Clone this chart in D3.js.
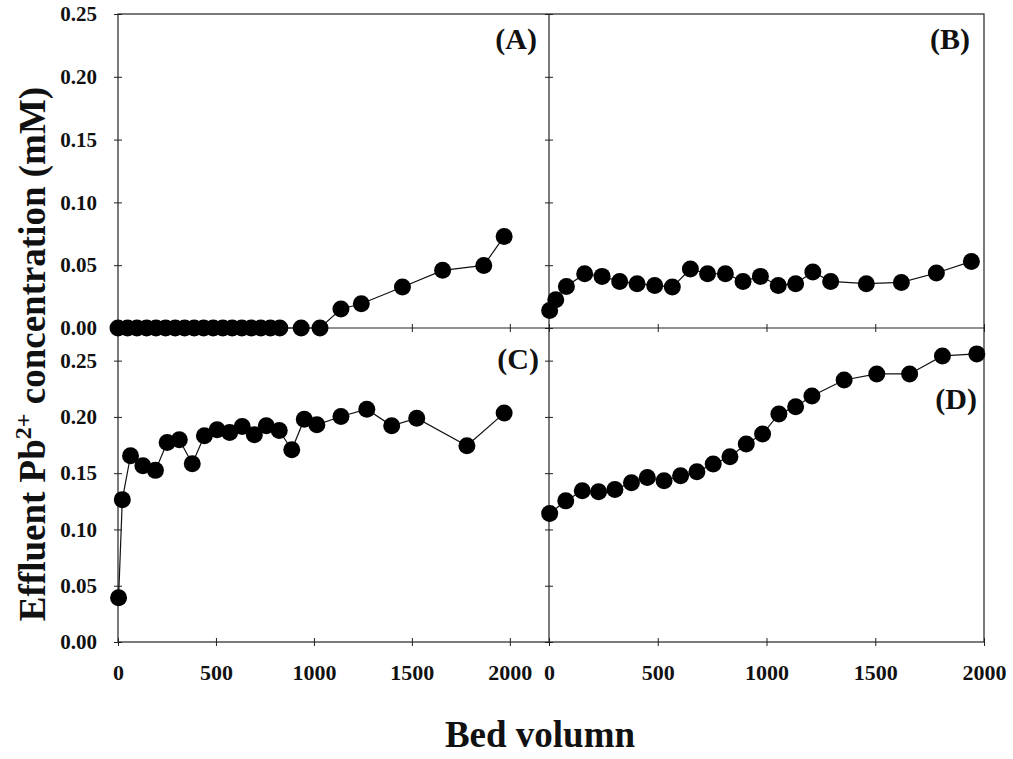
<!DOCTYPE html>
<html><head><meta charset="utf-8">
<script src="https://cdn.jsdelivr.net/npm/d3@7"></script>
<style>body{margin:0;background:#fff;} text{font-family:"Liberation Serif","Times New Roman",serif;font-weight:bold;fill:#111;}</style>
</head><body>
<svg id="c" width="1013" height="759"></svg>
<script>
// Panel A
const xA = [0,49,97,146,194,243,292,340,389,437,486,535,583,632,680,729,778,826,935,1031,1138,1242,1452,1657,1867,1971];
const yA = [0,0,0,0,0,0,0,0,0,0,0,0,0,0,0,0,0,0,0,0,0.0151,0.0193,0.0326,0.0459,0.0498,0.0729];
// Panel B
const xB = [3,31,80,164,244,325,405,486,567,650,729,811,892,972,1054,1134,1213,1295,1459,1620,1781,1942];
const yB = [0.0140,0.0225,0.0331,0.0432,0.0411,0.0371,0.0353,0.0339,0.0326,0.0470,0.0432,0.0432,0.0371,0.0411,0.0339,0.0353,0.0446,0.0371,0.0353,0.0363,0.0438,0.0530];
// Panel C
const xC = [3,22,64,127,191,251,313,379,441,506,570,634,696,757,823,887,951,1015,1138,1270,1397,1525,1781,1971];
const yC = [0.0394,0.1265,0.1655,0.1566,0.1525,0.1773,0.1797,0.1584,0.1832,0.1886,0.1862,0.1915,0.1841,0.1921,0.1879,0.1708,0.1980,0.1930,0.2004,0.2069,0.1921,0.1989,0.1744,0.2034];
// Panel D
const xD = [3,77,153,228,303,379,452,529,605,680,755,832,907,982,1057,1134,1209,1357,1507,1658,1809,1967];
const yD = [0.1142,0.1254,0.1343,0.1335,0.1356,0.1415,0.1462,0.1432,0.1477,0.1512,0.1581,0.1646,0.1759,0.1848,0.2026,0.2091,0.2186,0.2328,0.2382,0.2382,0.2542,0.2560];

const xTicks = [0,500,1000,1500,2000];
const yTicks = [0,0.05,0.10,0.15,0.20,0.25];
const panelLabels = ["(A)","(B)","(C)","(D)"];
const yTitle = "Effluent Pb";
const yTitleSup = "2+";
const yTitleRest = " concentration (mM)";
const xTitle = "Bed volumn";

const svg = d3.select("#c");
const L = 118, M = 549, R = 984, T = 14, H = 328, B = 642;

const xLeft = d3.scaleLinear().domain([0,2200]).range([L,M]);
const xRight = d3.scaleLinear().domain([0,2000]).range([M,R]);
const yTop = d3.scaleLinear().domain([0,0.25]).range([H,T]);
const yBot = d3.scaleLinear().domain([0,0.279]).range([B,H]);

const panels = [
  {xs:xA, ys:yA, x:xLeft, y:yTop, label:panelLabels[0], lx:537, ly:49},
  {xs:xB, ys:yB, x:xRight, y:yTop, label:panelLabels[1], lx:970, ly:49},
  {xs:xC, ys:yC, x:xLeft, y:yBot, label:panelLabels[2], lx:539, ly:369},
  {xs:xD, ys:yD, x:xRight, y:yBot, label:panelLabels[3], lx:977, ly:409},
];

// frames
const frame = svg.append("g").attr("stroke","#222").attr("stroke-width",1.2).attr("fill","none");
frame.append("rect").attr("x",L).attr("y",T).attr("width",R-L).attr("height",B-T);
frame.append("line").attr("x1",M).attr("x2",M).attr("y1",T).attr("y2",B);
frame.append("line").attr("x1",L).attr("x2",R).attr("y1",H).attr("y2",H);

// y axes
function yAxis(scale, x, labels){
  const g = svg.append("g").attr("transform",`translate(${x},0)`);
  const ax = d3.axisLeft(scale).tickValues(yTicks).tickFormat(d3.format(".2f")).tickSizeInner(4).tickSizeOuter(0).tickPadding(17);
  g.call(ax);
  g.select(".domain").remove();
  g.selectAll(".tick line").attr("x2",4).attr("x1",-4).attr("stroke","#222");
  if(!labels) g.selectAll(".tick text").remove();
  g.selectAll(".tick text").attr("font-size",21).attr("font-family","Liberation Serif").attr("font-weight","bold").attr("fill","#111");
  return g;
}
yAxis(yTop, L, true);
yAxis(yBot, L, true);
yAxis(yTop, M, false);
yAxis(yBot, M, false);

// x axes
function xAxis(scale, y, labels){
  const g = svg.append("g").attr("transform",`translate(0,${y})`);
  const ax = d3.axisBottom(scale).tickValues(xTicks).tickSizeInner(4).tickSizeOuter(0).tickPadding(18).tickFormat(d3.format("d"));
  g.call(ax);
  g.select(".domain").remove();
  g.selectAll(".tick line").attr("y1",-4).attr("y2",4).attr("stroke","#222");
  if(!labels) g.selectAll(".tick text").remove();
  g.selectAll(".tick text").attr("font-size",22).attr("font-family","Liberation Serif").attr("font-weight","bold").attr("fill","#111");
}
xAxis(xLeft, B, true);
xAxis(xRight, B, true);
xAxis(xLeft, H, false);
xAxis(xRight, H, false);

// data
const line = (p)=>d3.line().x((d,i)=>p.x(p.xs[i])).y((d,i)=>p.y(p.ys[i]));
panels.forEach(p=>{
  const g = svg.append("g");
  g.append("path").datum(p.xs).attr("d",line(p)).attr("fill","none").attr("stroke","#111").attr("stroke-width",1.2);
  g.selectAll("circle").data(p.xs).join("circle")
    .attr("cx",(d,i)=>p.x(p.xs[i])).attr("cy",(d,i)=>p.y(p.ys[i])).attr("r",8.5).attr("fill","#000");
  svg.append("text").attr("x",p.lx).attr("y",p.ly).attr("text-anchor","end").attr("font-size",30).text(p.label);
});

// titles
const yt = svg.append("text").attr("transform","translate(45,354) rotate(-90)").attr("text-anchor","middle").attr("font-size",37);
yt.append("tspan").text(yTitle);
yt.append("tspan").attr("font-size",24).attr("dy",-14).text(yTitleSup);
yt.append("tspan").attr("dy",14).text(yTitleRest);

svg.append("text").attr("x",540).attr("y",747).attr("text-anchor","middle").attr("font-size",37).text(xTitle);
</script>
</body></html>
